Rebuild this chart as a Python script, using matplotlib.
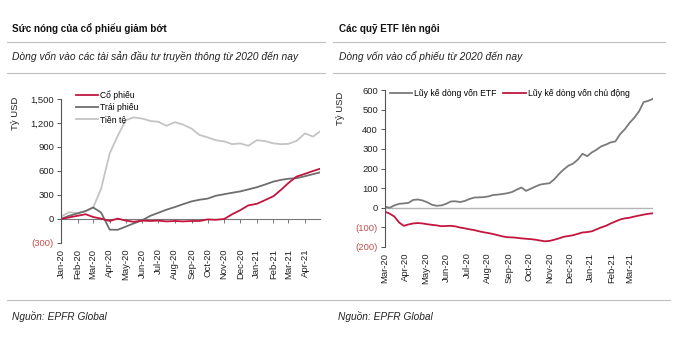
import numpy as np
import pandas as pd
import matplotlib
matplotlib.use("Agg")
import matplotlib.pyplot as plt
import matplotlib.dates as mdates
from matplotlib.ticker import FuncFormatter, FixedLocator

plt.rcParams['font.family'] = ['Liberation Sans', 'DejaVu Sans']

# ---- left chart: semi-monthly points, Jan-2020 .. end Apr-2021 (bn USD)
left_dates = pd.to_datetime([
    "2020-01-01", "2020-01-16", "2020-02-01", "2020-02-16", "2020-03-01", "2020-03-16",
    "2020-04-01", "2020-04-16", "2020-05-01", "2020-05-16", "2020-06-01", "2020-06-16",
    "2020-07-01", "2020-07-16", "2020-08-01", "2020-08-16", "2020-09-01", "2020-09-16",
    "2020-10-01", "2020-10-16", "2020-11-01", "2020-11-16", "2020-12-01", "2020-12-16",
    "2021-01-01", "2021-01-16", "2021-02-01", "2021-02-16", "2021-03-01", "2021-03-16",
    "2021-04-01", "2021-04-16", "2021-04-29"])
co_phieu = [0, 20, 40, 60, 25, 5, -25, 5, -20, -35, -20, -25, -20, -30, -25, -30, -25,
            -25, -5, -10, 0, 60, 110, 170, 190, 235, 285, 370, 450, 530, 565, 600, 628]
trai_phieu = [0, 40, 70, 100, 145, 80, -133, -135, -95, -55, -15, 40, 78, 116, 150, 185,
              220, 241, 255, 290, 310, 328, 345, 370, 397, 430, 468, 490, 503, 510, 535, 561, 582]
tien_te = [30, 85, 75, 95, 140, 380, 820, 1040, 1235, 1270, 1255, 1225, 1215, 1165, 1210,
           1180, 1130, 1050, 1020, 985, 970, 935, 945, 915, 985, 975, 945, 935, 940, 975,
           1070, 1030, 1095]
left_ticks = ["Jan-20", "Feb-20", "Mar-20", "Apr-20", "May-20", "Jun-20", "Jul-20", "Aug-20",
              "Sep-20", "Oct-20", "Nov-20", "Dec-20", "Jan-21", "Feb-21", "Mar-21", "Apr-21"]

# ---- right chart: weekly points from Mar-2020 (bn USD)
right_dates = pd.date_range("2020-03-01", periods=58, freq="7D")
etf = [5, 0, 12, 20, 22, 25, 40, 42, 37, 28, 15, 10, 12, 20, 32, 33, 29, 35, 45, 52, 53, 54,
       58, 65, 67, 70, 74, 80, 92, 103, 86, 97, 108, 118, 122, 125, 145, 172, 195, 214, 225,
       245, 275, 263, 282, 296, 313, 322, 333, 338, 375, 400, 432, 458, 490, 538, 545, 555]
chu_dong = [-20, -30, -45, -75, -92, -85, -80, -78, -80, -84, -87, -90, -94, -93, -92, -95,
            -101, -105, -110, -114, -120, -125, -129, -134, -140, -146, -150, -151, -153, -156,
            -158, -160, -163, -167, -171, -169, -163, -156, -148, -144, -140, -133, -126, -124,
            -120, -110, -100, -92, -80, -70, -60, -54, -51, -45, -40, -35, -31, -28]
right_ticks = ["Mar-20", "Apr-20", "May-20", "Jun-20", "Jul-20", "Aug-20", "Sep-20", "Oct-20",
               "Nov-20", "Dec-20", "Jan-21", "Feb-21", "Mar-21"]

RED = "#c2163f"
NEG = "#c0504d"
DARK = "#6e6e6e"
LIGHT = "#c4c4c4"
TXT = "#222222"
FS = 6.8
LFS = 6.2


def fmt(v, pos):
    if v < 0:
        return "({:,.0f})".format(-v)
    return "{:,.0f}".format(v)


def style_axes(ax, ymin, ymax, ystep, ticks, xlo, xhi):
    ax.set_ylim(ymin, ymax)
    ax.set_yticks(np.arange(ymin, ymax + 1, ystep))
    ax.yaxis.set_major_formatter(FuncFormatter(fmt))
    for s in ["top", "right", "bottom"]:
        ax.spines[s].set_visible(False)
    ax.spines["left"].set_color("#555555")
    ax.spines["left"].set_linewidth(0.8)
    ax.tick_params(axis="y", length=3, width=0.7, color="#555555", labelsize=FS,
                   labelcolor=TXT, pad=2)
    locs = mdates.date2num(pd.to_datetime(["01-" + t for t in ticks], format="%d-%b-%y"))
    ax.xaxis.set_major_locator(FixedLocator(locs))
    ax.set_xticklabels(ticks, rotation=90)
    ax.tick_params(axis="x", length=0, labelsize=FS, labelcolor=TXT, pad=4)
    ax.set_xlim(xlo, xhi)
    ax.set_ylabel("Tỷ USD", fontsize=FS, color=TXT, labelpad=2)
    fig.canvas.draw()
    for lab in ax.get_yticklabels():
        if lab.get_text().startswith("("):
            lab.set_color(NEG)
    return locs


fig = plt.figure(figsize=(6.8, 3.49), dpi=100)

# header texts and rules
fig.text(12 / 680, 1 - 29 / 349, "Sức nóng của cổ phiếu giảm bớt", fontsize=7.1, weight="bold",
         color="#111111", va="center")
fig.text(12 / 680, 1 - 57 / 349, "Dòng vốn vào các tài sản đầu tư truyền thông từ 2020 đến nay",
         fontsize=7.4, style="italic", color="#222222", va="center")
fig.text(339 / 680, 1 - 29 / 349, "Các quỹ ETF lên ngôi", fontsize=7.1, weight="bold",
         color="#111111", va="center")
fig.text(339 / 680, 1 - 57 / 349, "Dòng vốn vào cổ phiếu từ 2020 đến nay",
         fontsize=7.4, style="italic", color="#222222", va="center")
fig.text(12 / 680, 1 - 317 / 349, "Nguồn: EPFR Global", fontsize=7.3, style="italic",
         color="#222222", va="center")
fig.text(338 / 680, 1 - 317 / 349, "Nguồn: EPFR Global", fontsize=7.3, style="italic",
         color="#222222", va="center")
for y in [42, 73]:
    fig.add_artist(plt.Line2D([7 / 680, 325 / 680], [1 - y / 349] * 2, color="#bfbfbf", lw=0.8))
    fig.add_artist(plt.Line2D([333 / 680, 665 / 680], [1 - y / 349] * 2, color="#bfbfbf", lw=0.8))
fig.add_artist(plt.Line2D([7 / 680, 670 / 680], [1 - 300 / 349] * 2, color="#bfbfbf", lw=0.8))

# ---- left chart
ax1 = fig.add_axes([61 / 680, 1 - 243 / 349, 259 / 680, 144 / 349])
ax1.plot(left_dates, tien_te, color=LIGHT, lw=1.3, label="Tiền tệ")
ax1.plot(left_dates, trai_phieu, color=DARK, lw=1.3, label="Trái phiếu")
ax1.plot(left_dates, co_phieu, color=RED, lw=1.3, label="Cổ phiếu")
locs1 = style_axes(ax1, -300, 1500, 300, left_ticks,
                   mdates.date2num(left_dates[0]), mdates.date2num(left_dates[-1]))
ax1.yaxis.set_label_coords(-0.158, 0.9)
# axis line through zero carrying the month ticks
zero_ax = ax1.secondary_xaxis(300 / 1800)
zero_ax.xaxis.set_major_locator(FixedLocator(locs1))
zero_ax.set_xticklabels([])
zero_ax.tick_params(length=3, width=0.7, color="#777777", direction="out")
zero_ax.spines["bottom"].set_color("#777777")
zero_ax.spines["bottom"].set_linewidth(0.8)
h, l = ax1.get_legend_handles_labels()
ax1.legend(h[::-1], l[::-1], loc="upper left", bbox_to_anchor=(0.045, 1.083), frameon=False,
           fontsize=LFS, handlelength=2.6, handletextpad=0.2, labelspacing=0.35,
           borderaxespad=0)

# ---- right chart
ax2 = fig.add_axes([385 / 680, 1 - 247 / 349, 268 / 680, 157 / 349])
ax2.axhline(0, color="#b5b5b5", lw=1.0)
ax2.plot(right_dates, etf, color="#7a7a7a", lw=1.3, label="Lũy kế dòng vốn ETF")
ax2.plot(right_dates, chu_dong, color=RED, lw=1.3, label="Lũy kế dòng vốn chủ động")
style_axes(ax2, -200, 600, 100, right_ticks,
           mdates.date2num(right_dates[0]), mdates.date2num(right_dates[-1]))
ax2.yaxis.set_label_coords(-0.15, 0.885)
ax2.legend(loc="upper left", bbox_to_anchor=(0.006, 1.03), ncol=2, frameon=False,
           fontsize=LFS, handlelength=2.6, handletextpad=0.2, columnspacing=0.8,
           borderaxespad=0)

fig.savefig("out.png", dpi=100)
